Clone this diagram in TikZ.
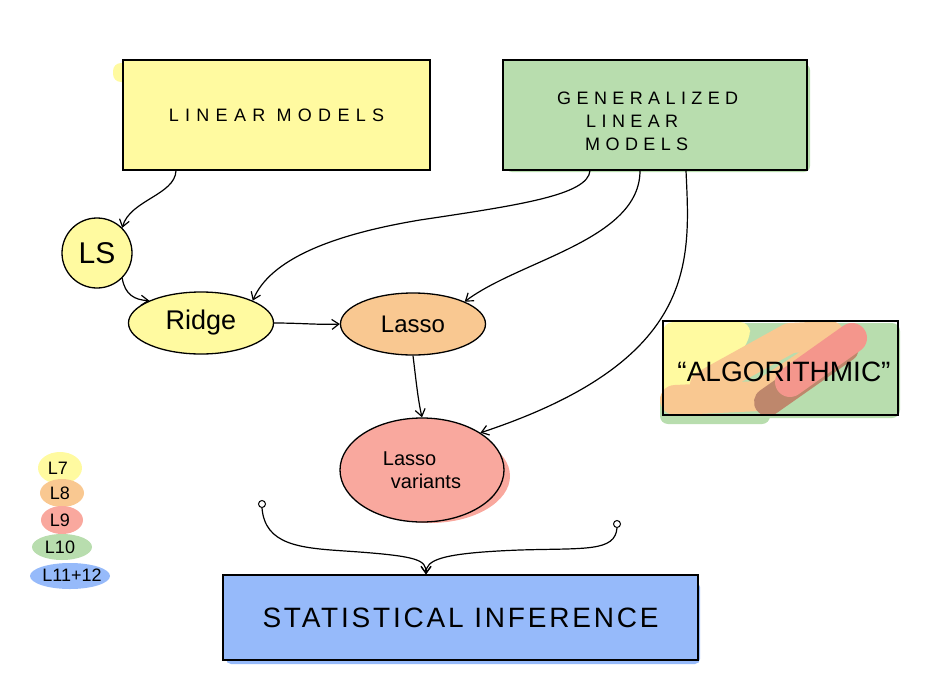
\documentclass[tikz,border=0pt]{standalone}
\usepackage{fontspec}
\setmainfont{Liberation Sans}
\usetikzlibrary{arrows.meta,shapes.geometric}
\definecolor{cyel}{RGB}{255,250,160}
\definecolor{cgrn}{RGB}{184,221,174}
\definecolor{corg}{RGB}{249,200,145}
\definecolor{cred}{RGB}{249,168,158}
\definecolor{cred2}{RGB}{244,150,140}
\definecolor{cblu}{RGB}{150,186,250}
\definecolor{cbrn}{RGB}{190,135,108}
\tikzset{
  box/.style={draw=black, line width=1.3pt, rectangle, inner sep=0pt, align=center},
  oval/.style={draw=black, line width=1.3pt, ellipse, inner sep=0pt, align=center},
  conn/.style={draw=black, line width=1.2pt, -{Straight Barb[length=7pt,width=10pt]}},
  blob/.style={line cap=round, line join=round},
  lab/.style={font=\fontsize{18}{20}\selectfont},
}
\begin{document}
\begin{tikzpicture}[x=1pt,y=-1pt]
\useasboundingbox (0,0) rectangle (944,693);
% background highlights
\fill[cyel, rounded corners=8pt] (113,63) rectangle (200,82);
\fill[cgrn, rounded corners=6pt] (506,64) rectangle (810,172);
\fill[cred] (430,476) ellipse (80 and 47);
\fill[cblu, rounded corners=5pt] (226,582) rectangle (700,664);
% boxes
\node[box, fill=cyel, minimum width=307pt, minimum height=110pt] (lin) at (276.5,115)
  {\addfontfeatures{LetterSpace=35}\fontsize{18}{20}\selectfont LINEAR MODELS};
\node[box, fill=cgrn, minimum width=304pt, minimum height=110pt] (glm) at (655,115) {};
\node[font=\addfontfeatures{LetterSpace=30}\fontsize{18}{23}\selectfont, align=left, anchor=north west, inner sep=0pt] (glmt) at (557,92)
  {GENERALIZED\\\hspace*{29pt}LINEAR\\\hspace*{28pt}MODELS};
% algorithmic box with highlight strokes
\node[box, fill=white, minimum width=235pt, minimum height=94pt] (alg) at (780.5,368) {};
\begin{scope}[blob]
\fill[cgrn, rounded corners=8pt] (735,323) rectangle (900,418);
\fill[cgrn, rounded corners=8pt] (660,392) rectangle (770,424);
\fill[cyel, rounded corners=10pt] (663,322) -- (750,322) -- (750,340) -- (690,412) -- (663,412) -- cycle;
\draw[corg, line width=30pt] (675,400) -- (760,396) -- (838,345);
\draw[corg, line width=30pt] (705,385) -- (790,338) -- (830,336);
\draw[cbrn, line width=28pt] (768,402) -- (845,348);
\draw[cred2, line width=30pt] (790,382) -- (852,338);
\end{scope}
\node[box, minimum width=235pt, minimum height=94pt] at (780.5,368) {};
\node[font=\fontsize{28}{30}\selectfont] (algt) at (784,372) {``ALGORITHMIC''};
% ovals
\node[oval, fill=cyel, minimum width=70pt, minimum height=70pt, font=\fontsize{30}{32}\selectfont] (ls) at (97,253) {LS};
\node[oval, fill=cyel, minimum width=145pt, minimum height=62pt, font=\fontsize{27}{30}\selectfont] (ridge) at (201,323) {Ridge};
\node[oval, fill=corg, minimum width=145pt, minimum height=62pt, font=\fontsize{24}{28}\selectfont] (lasso) at (413,324) {Lasso};
\node[oval, fill=cred, minimum width=164pt, minimum height=104pt, font=\fontsize{20}{23}\selectfont, align=left] (var) at (422,470)
  {Lasso\\\hspace*{8pt}variants};
% statistical inference
\node[box, fill=cblu, minimum width=475pt, minimum height=85pt] (stat) at (460.5,617.5)
  {\addfontfeatures{LetterSpace=10}\fontsize{28}{30}\selectfont STATISTICAL INFERENCE};
% connectors
\draw[conn] (lin.south -| 176,0) .. controls (175,195) and (130,200) .. (ls.north east);
\draw[conn] (ls.south east) .. controls (125,295) and (135,300) .. (ridge.north west);
\draw[conn] (ridge.east) .. controls (300,323) and (320,325) .. (lasso.west);
\draw[conn] (glm.south -| 590,0) .. controls (588,195) and (520,205) .. (420,220)
  .. controls (330,235) and (270,260) .. (ridge.north east);
\draw[conn] (glm.south -| 640,0) .. controls (640,240) and (520,260) .. (lasso.north east);
\draw[conn] (glm.south -| 686,0) .. controls (690,260) and (700,360) .. (var.north east);
\draw[conn] (lasso.south) .. controls (416,380) and (418,400) .. (var.north);
% inputs to statistical inference
\node[draw=black, line width=1pt, circle, inner sep=0pt, minimum size=7pt] (in1) at (262,504) {};
\node[draw=black, line width=1pt, circle, inner sep=0pt, minimum size=7pt] (in2) at (617,524) {};
\coordinate (merge) at (stat.north -| 426,0);
\draw[conn] (in1.south) .. controls (265,545) and (300,548) .. (345,551)
  .. controls (420,556) and (426,560) .. (merge);
\draw[conn] (in2.south) .. controls (615,552) and (585,548) .. (520,550)
  .. controls (440,553) and (426,560) .. (merge);
% legend
\fill[cyel] (60,468) ellipse (22 and 16);
\fill[corg] (62,493) ellipse (22 and 14);
\fill[cred] (62,520) ellipse (21 and 14);
\fill[cgrn] (62,547) ellipse (30 and 13);
\fill[cblu] (70,576) ellipse (40 and 13);
\node[lab] (l7) at (58,468) {L7};
\node[lab] (l8) at (60,493) {L8};
\node[lab] (l9) at (60,520) {L9};
\node[lab] (l10) at (60,547) {L10};
\node[lab] (l11) at (72,575) {L11+12};
\end{tikzpicture}
\end{document}
